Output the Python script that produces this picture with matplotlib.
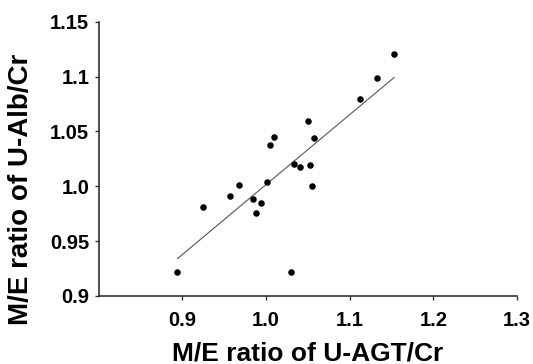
import numpy as np
import matplotlib
matplotlib.use('Agg')
import matplotlib.pyplot as plt

plt.rcParams['font.family'] = ['Liberation Sans', 'DejaVu Sans']
plt.rcParams['font.weight'] = 'bold'

# M/E ratio of U-AGT/Cr (x) and U-Alb/Cr (y)
agt = [0.894, 0.925, 0.957, 0.968, 0.984, 0.988, 0.994, 1.001, 1.005, 1.010,
       1.030, 1.033, 1.041, 1.052, 1.050, 1.057, 1.055, 1.112, 1.132, 1.153]
alb = [0.922, 0.981, 0.991, 1.001, 0.988, 0.976, 0.985, 1.004, 1.038, 1.045,
       0.922, 1.020, 1.018, 1.019, 1.060, 1.044, 1.000, 1.080, 1.099, 1.121]

xticks = [0.9, 1.0, 1.1, 1.2, 1.3]
xticklabels = ['0.9', '1.0', '1.1', '1.2', '1.3']
yticks = [0.9, 0.95, 1.0, 1.05, 1.1, 1.15]
yticklabels = ['0.9', '0.95', '1.0', '1.05', '1.1', '1.15']

x = np.array(agt)
y = np.array(alb)
slope, icpt = np.polyfit(x, y, 1)
xl = np.array([x.min(), x.max()])

fig = plt.figure(figsize=(5.33, 3.64), dpi=100)
ax = fig.add_axes([0.1855, 0.187, 0.7845, 0.753])

ax.plot(xl, slope * xl + icpt, color='#555555', lw=0.8)
ax.scatter(x, y, s=22, color='black', zorder=3, linewidths=0)

ax.set_xlim(0.8, 1.3)
ax.set_ylim(0.9, 1.15)
ax.set_xticks(xticks)
ax.set_xticklabels(xticklabels)
ax.set_yticks(yticks)
ax.set_yticklabels(yticklabels)
ax.tick_params(labelsize=14.5, length=3, width=1, color='#333333')
ax.tick_params(axis='x', pad=8)
ax.tick_params(axis='y', pad=4)

for s in ['top', 'right']:
    ax.spines[s].set_visible(False)
for s in ['left', 'bottom']:
    ax.spines[s].set_linewidth(1.1)
    ax.spines[s].set_color('#222222')

ax.set_xlabel('M/E ratio of U-AGT/Cr', fontsize=19, fontweight='bold', labelpad=8)
ax.set_ylabel('M/E ratio of U-Alb/Cr', fontsize=20, fontweight='bold')
ax.yaxis.set_label_coords(-0.155, 0.39)

fig.savefig('out.png', dpi=100)
